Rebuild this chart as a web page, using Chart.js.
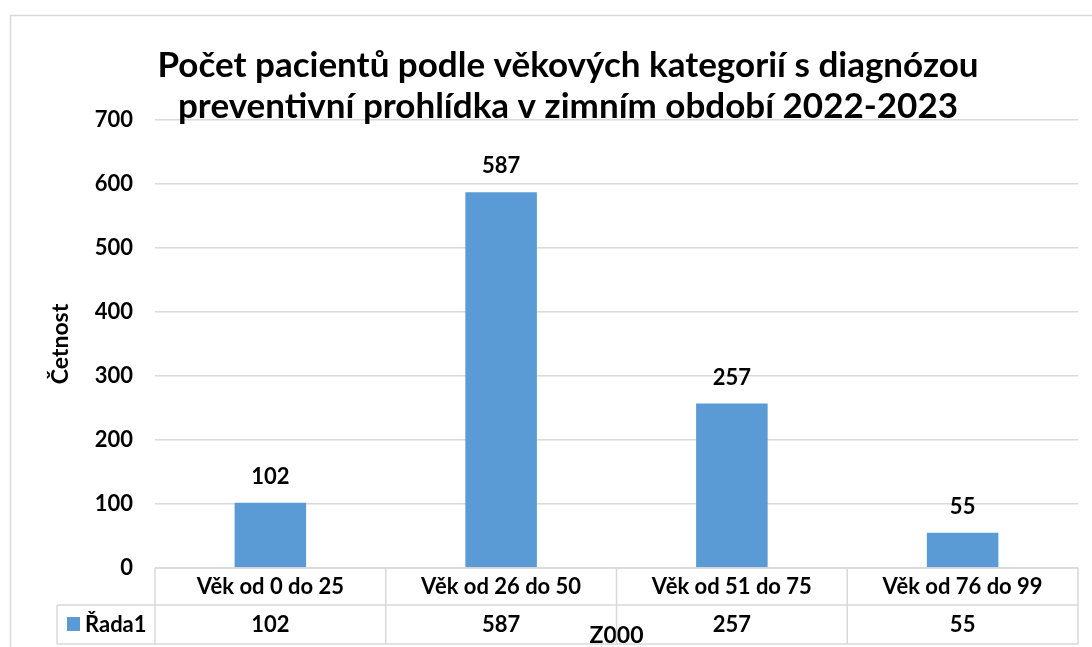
<!DOCTYPE html>
<html>
<head>
<meta charset="utf-8">
<script src="https://cdn.jsdelivr.net/npm/chart.js@4"></script>
<style>
  html, body { margin: 0; padding: 0; background: #fff; }
  #wrap { width: 1092px; height: 647px; }
</style>
</head>
<body>
<div id="wrap"><canvas id="c" width="1092" height="647"></canvas></div>
<script>
var categories = ['Věk od 0 do 25', 'Věk od 26 do 50', 'Věk od 51 do 75', 'Věk od 76 do 99'];
var values = [102, 587, 257, 55];
var seriesName = 'Řada1';
var titleLines = ['Počet pacientů podle věkových kategorií s diagnózou', 'preventivní prohlídka v zimním období 2022-2023'];
var yTicks = [0, 100, 200, 300, 400, 500, 600, 700];

var FONT = 'Lato, "Open Sans", sans-serif';
var BLUE = '#5b9bd5';
var GRID = '#d9d9d9';

// title, value labels and the data table under the plot
var excelBits = {
    id: 'excelBits',
    afterDraw: function(chart) {
        var ctx = chart.ctx;
        var area = chart.chartArea;
        var x = chart.scales.x;
        var meta = chart.getDatasetMeta(0);
        ctx.save();

        // outer chart border
        ctx.strokeStyle = GRID;
        ctx.lineWidth = 1.5;
        ctx.strokeRect(10.5, 15.5, 1200, 700);

        // title
        ctx.fillStyle = '#000';
        ctx.textAlign = 'center';
        ctx.textBaseline = 'middle';
        ctx.font = 'bold 35px ' + FONT;
        ctx.fillText(titleLines[0], 568, 66);
        ctx.fillText(titleLines[1], 568, 107);

        // value labels
        ctx.font = 'bold 22px ' + FONT;
        meta.data.forEach(function(bar, i) {
            ctx.fillText(String(values[i]), bar.x, bar.y - 26);
        });

        // data table
        var row1 = area.bottom, row2 = 605, row3 = 644;
        var colW = (area.right - area.left) / categories.length;
        ctx.strokeStyle = GRID;
        ctx.lineWidth = 1.5;
        ctx.beginPath();
        ctx.moveTo(area.left, row1); ctx.lineTo(area.right, row1);
        ctx.moveTo(57, row2); ctx.lineTo(area.right, row2);
        ctx.moveTo(57, row3); ctx.lineTo(area.right, row3);
        ctx.moveTo(57, row2); ctx.lineTo(57, row3);
        for (var i = 0; i <= categories.length; i++) {
            var cx = area.left + i * colW;
            ctx.moveTo(cx, row1); ctx.lineTo(cx, row3);
        }
        ctx.stroke();

        ctx.fillStyle = '#000';
        ctx.font = 'bold 22px ' + FONT;
        categories.forEach(function(cat, i) {
            var cx = x.getPixelForValue(i);
            ctx.fillText(cat, cx, (row1 + row2) / 2);
            ctx.fillText(String(values[i]), cx, (row2 + row3) / 2);
        });

        // legend key in the table
        ctx.fillStyle = BLUE;
        ctx.fillRect(67, 617, 13, 14);
        ctx.fillStyle = '#000';
        ctx.textAlign = 'left';
        ctx.fillText(seriesName, 85, (row2 + row3) / 2);
        ctx.restore();
    }
};

new Chart(document.getElementById('c'), {
    type: 'bar',
    data: {
        labels: categories,
        datasets: [{
            label: seriesName,
            data: values,
            backgroundColor: BLUE,
            borderWidth: 0,
            barPercentage: 0.31,
            categoryPercentage: 1
        }]
    },
    options: {
        responsive: false,
        animation: false,
        events: [],
        layout: { padding: { top: 120, left: 47, right: 14, bottom: 0 } },
        plugins: {
            legend: { display: false },
            title: { display: false },
            tooltip: { enabled: false }
        },
        scales: {
            x: {
                grid: { display: false },
                border: { display: false },
                ticks: { display: false },
                title: {
                    display: true,
                    text: 'Z000',
                    color: '#000',
                    font: { family: FONT, size: 23, weight: 'bold' },
                    padding: { top: 0, bottom: -2 }
                },
                afterFit: function(s) { s.height = 79; }
            },
            y: {
                min: 0,
                max: 700,
                afterBuildTicks: function(s) {
                    s.ticks = yTicks.map(function(v) { return { value: v }; });
                },
                grid: { color: GRID, lineWidth: 1.5, drawTicks: false },
                border: { display: false },
                ticks: {
                    color: '#000',
                    padding: 22,
                    font: { family: FONT, size: 22, weight: 'bold' }
                },
                title: {
                    display: true,
                    text: 'Četnost',
                    color: '#000',
                    font: { family: FONT, size: 23, weight: 'bold' },
                    padding: 0
                },
                afterFit: function(s) { s.width = 108; }
            }
        }
    },
    plugins: [excelBits]
});
</script>
</body>
</html>
